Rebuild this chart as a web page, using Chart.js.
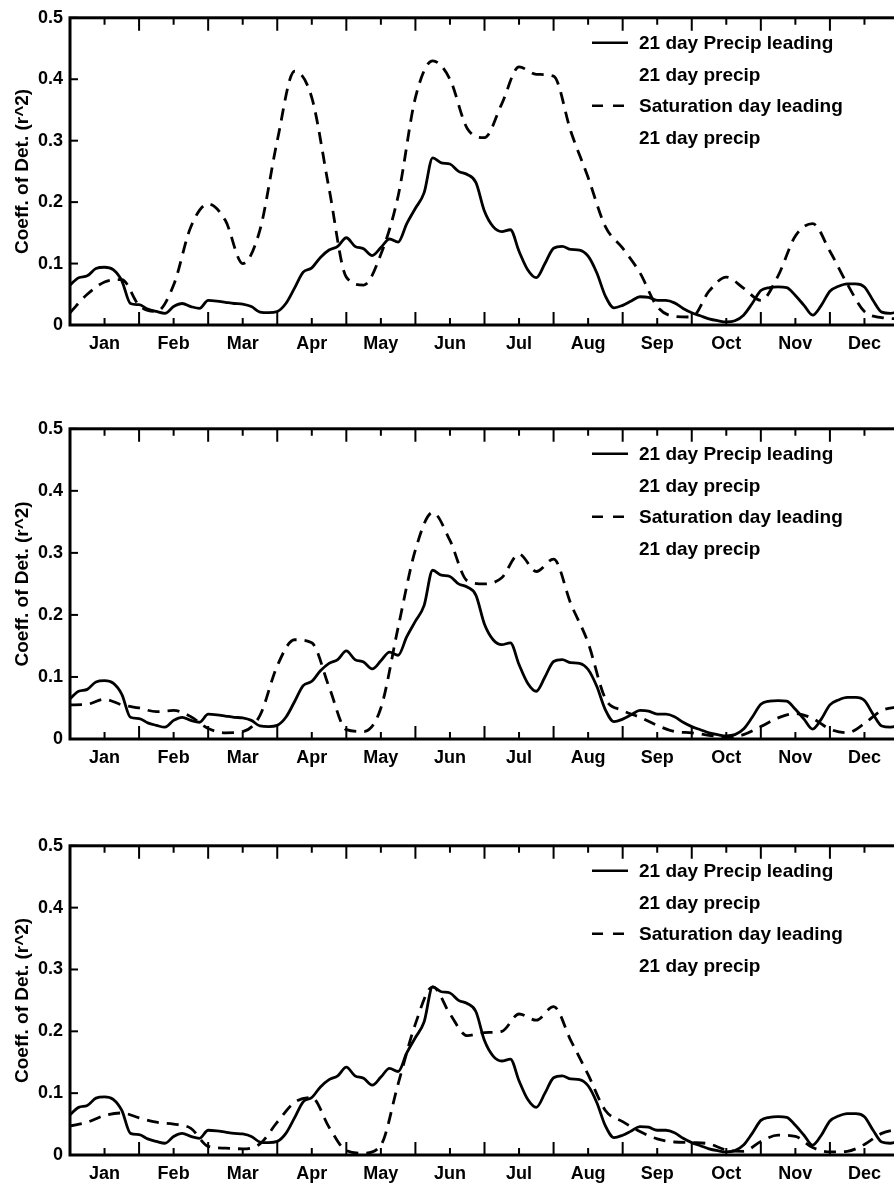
<!DOCTYPE html>
<html>
<head>
<meta charset="utf-8">
<script src="https://cdn.jsdelivr.net/npm/chart.js@4/dist/chart.umd.min.js"></script>
<style>
  html, body { margin: 0; padding: 0; background: #fff; overflow: hidden; }
  #wrap { position: relative; width: 894px; height: 1186px; overflow: hidden; }
  canvas { position: absolute; left: 0; }
</style>
</head>
<body>
<div id="wrap">
  <canvas id="panel1" width="900" height="360" style="top:0px"></canvas>
  <canvas id="panel2" width="900" height="363" style="top:411px"></canvas>
  <canvas id="panel3" width="900" height="362" style="top:828px"></canvas>
</div>
<script>
const MONTHS = ["Jan", "Feb", "Mar", "Apr", "May", "Jun", "Jul", "Aug", "Sep", "Oct", "Nov", "Dec"];

// x positions in months from 1 Jan (0 = start of Jan, 12 = end of Dec)
const PRECIP_X = [
  0, 0.125, 0.25, 0.375, 0.5, 0.625, 0.75, 0.875,
  1, 1.125, 1.25, 1.375, 1.5, 1.625, 1.75, 1.875,
  2, 2.125, 2.25, 2.375, 2.5, 2.625, 2.75, 2.875,
  3, 3.125, 3.25, 3.375, 3.5, 3.625, 3.75, 3.875,
  4, 4.125, 4.25, 4.375, 4.5, 4.625, 4.75, 4.875,
  5, 5.125, 5.25, 5.375, 5.5, 5.625, 5.75, 5.875,
  6, 6.125, 6.25, 6.375, 6.5, 6.625, 6.75, 6.875,
  7, 7.125, 7.25, 7.375, 7.5, 7.625, 7.75, 7.875,
  8, 8.125, 8.25, 8.375, 8.5, 8.625, 8.75, 8.875,
  9, 9.125, 9.25, 9.375, 9.5, 9.625, 9.75, 9.875,
  10, 10.125, 10.25, 10.375, 10.5, 10.625, 10.75, 10.875,
  11, 11.125, 11.25, 11.375, 11.5, 11.625, 11.75, 11.875, 12
];
const SAT_X = [
  0, 0.25, 0.5, 0.75, 1, 1.25, 1.5, 1.75, 2, 2.25, 2.5, 2.75,
  3, 3.25, 3.5, 3.75, 4, 4.25, 4.5, 4.75, 5, 5.25, 5.5, 5.75,
  6, 6.25, 6.5, 6.75, 7, 7.25, 7.5, 7.75, 8, 8.25, 8.5, 8.75,
  9, 9.25, 9.5, 9.75, 10, 10.25, 10.5, 10.75, 11, 11.25, 11.5, 11.75, 12
];

// solid line, same in all three panels
const PRECIP_LEADING = [
  0.065, 0.077, 0.080, 0.092, 0.094, 0.090, 0.072, 0.035,
  0.033, 0.026, 0.022, 0.019, 0.030, 0.035, 0.030, 0.027,
  0.040, 0.039, 0.037, 0.035, 0.034, 0.030, 0.021, 0.020,
  0.022, 0.035, 0.060, 0.086, 0.093, 0.110, 0.122, 0.128,
  0.142, 0.128, 0.124, 0.113, 0.126, 0.140, 0.135, 0.165,
  0.190, 0.215, 0.272, 0.264, 0.262, 0.250, 0.245, 0.232,
  0.185, 0.160, 0.152, 0.155, 0.120, 0.090, 0.077, 0.100,
  0.125, 0.128, 0.123, 0.122, 0.112, 0.085, 0.047, 0.028,
  0.032, 0.039, 0.046, 0.045, 0.040, 0.040, 0.036, 0.027,
  0.020, 0.015, 0.010, 0.007, 0.005, 0.007, 0.016, 0.035,
  0.056, 0.061, 0.062, 0.061, 0.048, 0.032, 0.016, 0.032,
  0.055, 0.063, 0.067, 0.067, 0.062, 0.040, 0.021, 0.019, 0.022
];

// dashed lines, one per panel
const SAT_LEADING_1 = [
  0.020, 0.050, 0.070, 0.074, 0.032, 0.022, 0.065, 0.160, 0.197, 0.170, 0.100, 0.155,
  0.300, 0.413, 0.370, 0.222, 0.078, 0.065, 0.115, 0.210, 0.370, 0.430, 0.400, 0.320,
  0.305, 0.360, 0.420, 0.408, 0.405, 0.315, 0.240, 0.160, 0.125, 0.085, 0.030, 0.014,
  0.013, 0.055, 0.078, 0.060, 0.040, 0.080, 0.145, 0.165, 0.120, 0.067, 0.022, 0.012, 0.010
];
const SAT_LEADING_2 = [
  0.055, 0.056, 0.064, 0.055, 0.050, 0.044, 0.046, 0.036, 0.017, 0.010, 0.012, 0.038,
  0.118, 0.160, 0.155, 0.084, 0.015, 0.012, 0.050, 0.180, 0.305, 0.365, 0.320, 0.255,
  0.250, 0.260, 0.298, 0.270, 0.290, 0.218, 0.155, 0.065, 0.046, 0.035, 0.022, 0.012,
  0.010, 0.006, 0.003, 0.007, 0.020, 0.034, 0.041, 0.033, 0.016, 0.010, 0.025, 0.046, 0.052
];
const SAT_LEADING_3 = [
  0.047, 0.053, 0.064, 0.068, 0.060, 0.053, 0.050, 0.043, 0.014, 0.011, 0.010, 0.018,
  0.053, 0.085, 0.093, 0.045, 0.007, 0.003, 0.016, 0.115, 0.212, 0.272, 0.228, 0.193,
  0.198, 0.200, 0.228, 0.218, 0.240, 0.185, 0.130, 0.072, 0.054, 0.038, 0.026, 0.021,
  0.020, 0.018, 0.008, 0.006, 0.022, 0.032, 0.030, 0.012, 0.005, 0.006, 0.017, 0.035, 0.042
];

const LEGEND_SOLID = ["21 day Precip leading", "21 day precip"];
const LEGEND_DASHED = ["Saturation day leading", "21 day precip"];
const Y_TITLE = "Coeff. of Det. (r^2)";

const FONT_FAMILY = "'Liberation Sans', Arial, Helvetica, sans-serif";
Chart.defaults.font.family = FONT_FAMILY;
Chart.defaults.font.weight = "bold";
Chart.defaults.font.size = 18;
Chart.defaults.color = "#000";

function toPoints(xs, values) {
  return values.map(function (v, i) {
    return { x: xs[i], y: v };
  });
}

// MATLAB-like box with inward ticks, plus the in-axes legend
const framePlugin = {
  id: "matlabFrame",
  afterDatasetsDraw: function (chart) {
    const ctx = chart.ctx;
    const a = chart.chartArea;
    const xs = chart.scales.x;
    const ys = chart.scales.y;
    ctx.save();
    ctx.strokeStyle = "#000";
    ctx.lineWidth = 3;
    ctx.strokeRect(a.left, a.top, a.right - a.left, a.bottom - a.top);

    ctx.lineWidth = 2;
    xs.ticks.forEach(function (t) {
      const px = xs.getPixelForValue(t.value);
      const len = t.value % 1 === 0 ? 13 : 7;
      ctx.beginPath();
      ctx.moveTo(px, a.bottom);
      ctx.lineTo(px, a.bottom - len);
      ctx.moveTo(px, a.top);
      ctx.lineTo(px, a.top + len);
      ctx.stroke();
    });
    ys.ticks.forEach(function (t) {
      const py = ys.getPixelForValue(t.value);
      ctx.beginPath();
      ctx.moveTo(a.left, py);
      ctx.lineTo(a.left + 8, py);
      ctx.stroke();
    });

    // legend
    ctx.font = "bold 19px " + FONT_FAMILY;
    ctx.fillStyle = "#000";
    ctx.textBaseline = "middle";
    ctx.textAlign = "left";
    let row = 0;
    chart.data.datasets.forEach(function (ds) {
      ds.legendLines.forEach(function (line, j) {
        const y = a.top + 25 + row * 31.5;
        if (j === 0) {
          ctx.beginPath();
          ctx.lineWidth = 2.5;
          ctx.setLineDash(ds.borderDash.length ? [11, 10] : []);
          ctx.moveTo(592, y);
          ctx.lineTo(628, y);
          ctx.stroke();
          ctx.setLineDash([]);
        }
        ctx.fillText(line, 639, y + 1);
        row++;
      });
    });
    ctx.restore();
  },
};

function makePanel(canvasId, dashedValues) {
  const ctx = document.getElementById(canvasId).getContext("2d");
  return new Chart(ctx, {
    type: "line",
    data: {
      datasets: [
        {
          label: LEGEND_SOLID.join(" "),
          legendLines: LEGEND_SOLID,
          data: toPoints(PRECIP_X, PRECIP_LEADING),
          borderColor: "#000",
          borderWidth: 2.8,
          borderDash: [],
          pointRadius: 0,
          fill: false,
          cubicInterpolationMode: "monotone",
        },
        {
          label: LEGEND_DASHED.join(" "),
          legendLines: LEGEND_DASHED,
          data: toPoints(SAT_X, dashedValues),
          borderColor: "#000",
          borderWidth: 2.8,
          borderDash: [12, 8],
          pointRadius: 0,
          fill: false,
          cubicInterpolationMode: "monotone",
        },
      ],
    },
    plugins: [framePlugin],
    options: {
      responsive: false,
      animation: false,
      layout: { padding: { top: 14, right: 1, left: 0, bottom: 0 } },
      plugins: {
        legend: { display: false },
        tooltip: { enabled: false },
      },
      scales: {
        x: {
          type: "linear",
          min: 0,
          max: 12,
          grid: { display: false, drawTicks: false },
          border: { display: false },
          afterBuildTicks: function (scale) {
            const ticks = [];
            for (let m = 0.5; m < 12; m += 0.5) ticks.push({ value: m });
            scale.ticks = ticks;
          },
          afterFit: function (scale) {
            scale.height = 35;
          },
          ticks: {
            autoSkip: false,
            maxRotation: 0,
            padding: 8,
            callback: function (value) {
              return value % 1 === 0.5 ? MONTHS[Math.floor(value)] : "";
            },
          },
        },
        y: {
          min: 0,
          max: 0.5,
          grid: { display: false, drawTicks: false },
          border: { display: false },
          afterFit: function (scale) {
            scale.width = 70;
          },
          ticks: { stepSize: 0.1, padding: 7 },
          title: {
            display: true,
            text: Y_TITLE,
            font: { size: 19, weight: "bold" },
            padding: { top: 11, bottom: 0 },
          },
        },
      },
    },
  });
}

makePanel("panel1", SAT_LEADING_1);
makePanel("panel2", SAT_LEADING_2);
makePanel("panel3", SAT_LEADING_3);
</script>
</body>
</html>
